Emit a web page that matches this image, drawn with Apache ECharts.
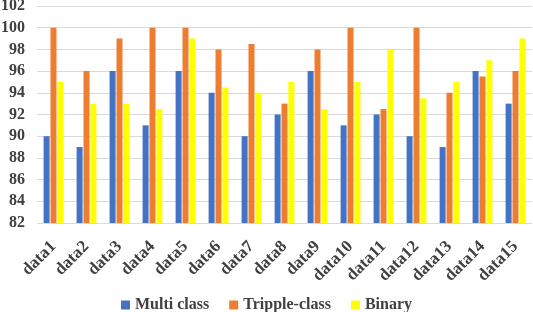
<!DOCTYPE html>
<html><head><meta charset="utf-8">
<script src="https://cdn.jsdelivr.net/npm/echarts@6/dist/echarts.min.js"></script>
<style>html,body{margin:0;padding:0;background:#fff}#c{width:533px;height:312px}</style>
</head><body><div id="c"></div>
<script>
const categories = ['data1','data2','data3','data4','data5','data6','data7','data8','data9','data10','data11','data12','data13','data14','data15'];
const multiClass = [90, 89, 96, 91, 96, 94, 90, 92, 96, 91, 92, 90, 89, 96, 93];
const trippleClass = [100, 96, 99, 100, 100, 98, 98.5, 93, 98, 100, 92.5, 100, 94, 95.5, 96];
const binary = [95, 93, 93, 92.5, 99, 94.5, 94, 95, 92.5, 95, 98, 93.5, 95, 97, 99];
const seriesNames = ['Multi class', 'Tripple-class', 'Binary'];
const colors = ['#4472C4', '#ED7D31', '#FFFF00'];
const font = 'Liberation Serif';
const chart = echarts.init(document.getElementById('c'));
const mk = (name, data, color) => ({
  name, type: 'bar', data, barWidth: 6, barGap: '15%',
  itemStyle: { color }
});
chart.setOption({
  animation: false,
  grid: { left: 37, right: 1, top: 6, bottom: 89, outerBoundsMode: 'none' },
  legend: {
    bottom: -6, left: 'center', itemWidth: 9, itemHeight: 9, itemGap: 20,
    icon: 'rect',
    textStyle: { fontFamily: font, fontWeight: 'bold', fontSize: 16, color: '#404040' },
    data: seriesNames
  },
  xAxis: {
    type: 'category', data: categories,
    axisLine: { show: false }, axisTick: { show: false },
    axisLabel: { rotate: 45, interval: 0, margin: 21, fontFamily: font, fontWeight: 'bold', fontSize: 17, color: '#404040' }
  },
  yAxis: {
    type: 'value', min: 82, max: 102, interval: 2,
    axisLine: { show: false }, axisTick: { show: false },
    splitLine: { lineStyle: { color: '#d9d9d9', width: 1 } },
    axisLabel: { margin: 12, fontFamily: font, fontWeight: 'bold', fontSize: 16, color: '#404040' }
  },
  series: [
    mk(seriesNames[0], multiClass, colors[0]),
    mk(seriesNames[1], trippleClass, colors[1]),
    mk(seriesNames[2], binary, colors[2])
  ]
});
</script></body></html>
